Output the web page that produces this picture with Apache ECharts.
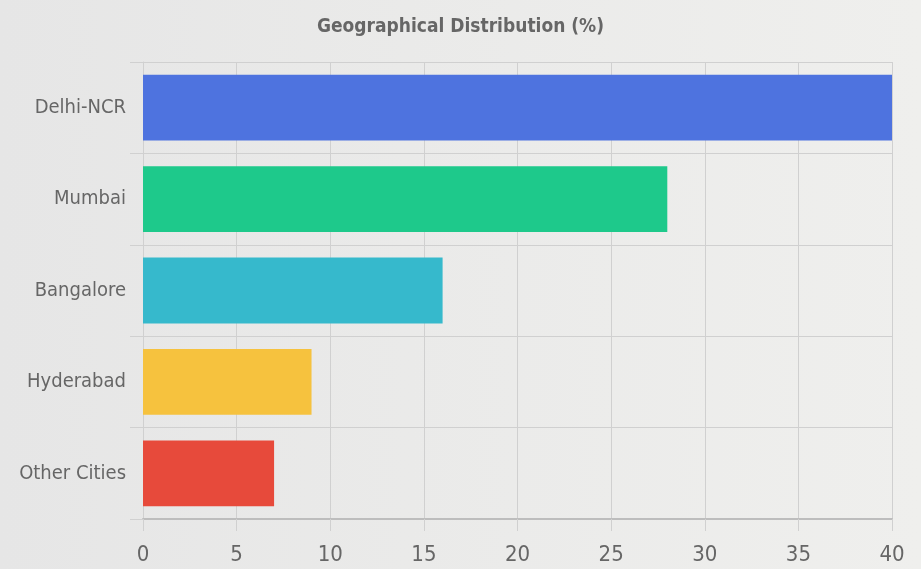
<!DOCTYPE html>
<html>
<head>
<meta charset="utf-8">
<script src="https://cdn.jsdelivr.net/npm/echarts@6/dist/echarts.min.js"></script>
<style>
html,body{margin:0;padding:0;}
#c{width:921px;height:569px;}
</style>
</head>
<body>
<div id="c"></div>
<script>
const categories = ["Delhi-NCR", "Mumbai", "Bangalore", "Hyderabad", "Other Cities"];
const values = [40, 28, 16, 9, 7];
const barColors = ["#4e73df", "#1ec98b", "#36b9cc", "#f6c23e", "#e74a3b"];
const xTicks = { min: 0, max: 40, interval: 5 };

const FONT = "'DejaVu Sans Condensed', Roboto, sans-serif";
const gridColor = "#d0d0d0";

const chart = echarts.init(document.getElementById('c'));
chart.setOption({
  backgroundColor: {
    type: 'linear', x: 0, y: 0, x2: 1, y2: 0,
    colorStops: [{ offset: 0, color: '#e6e6e6' }, { offset: 1, color: '#efefed' }]
  },
  animation: false,
  title: {
    text: 'Geographical Distribution (%)',
    left: 'center',
    top: 13,
    textStyle: { fontFamily: FONT, fontSize: 19, fontWeight: 'bold', color: '#666' }
  },
  grid: { left: 143, right: 29, top: 62, bottom: 50, containLabel: false },
  xAxis: {
    type: 'value',
    min: xTicks.min, max: xTicks.max, interval: xTicks.interval,
    axisLine: { show: true, lineStyle: { color: '#bdbdbd', width: 2 } },
    axisTick: { show: true, length: 12, lineStyle: { color: gridColor } },
    splitLine: { show: true, lineStyle: { color: gridColor, width: 1 } },
    axisLabel: { fontFamily: FONT, fontSize: 22, color: '#666', margin: 25 }
  },
  yAxis: {
    type: 'category',
    data: categories,
    inverse: true,
    axisLine: { show: true, lineStyle: { color: gridColor } },
    axisTick: { show: true, length: 13, lineStyle: { color: gridColor } },
    splitLine: { show: true, lineStyle: { color: gridColor, width: 1 } },
    axisLabel: { fontFamily: FONT, fontSize: 20, color: '#666', margin: 17 }
  },
  series: [{
    type: 'bar',
    data: values.map((v, i) => ({ value: v, itemStyle: { color: barColors[i] } })),
    barCategoryGap: '28%',
    itemStyle: { borderWidth: 0 }
  }]
});
</script>
</body>
</html>
